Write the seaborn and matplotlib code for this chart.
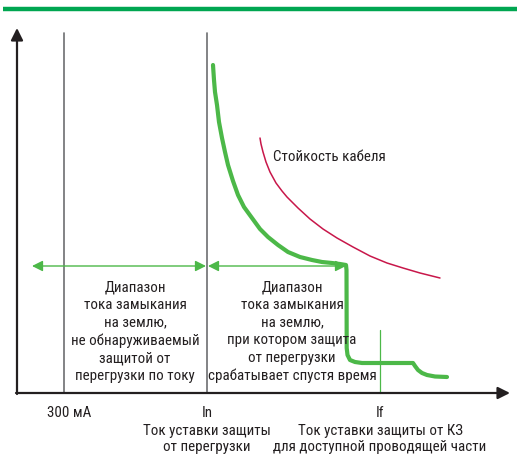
import matplotlib
matplotlib.use("Agg")
import matplotlib.pyplot as plt
import pandas as pd
import seaborn as sns
from matplotlib import font_manager

# schematic coordinates (figure pixels, y grows downward)
trip_x = [213, 214, 215, 217, 219, 222, 225, 228, 233, 238, 244, 252, 260, 268, 278, 288, 300, 312,
          322, 332, 340, 346, 346.5, 346.7, 347.5, 350, 355, 362, 413, 415, 418, 422, 427, 435, 447]
trip_y = [65, 80, 92, 105, 122, 138, 152, 165, 181, 195, 207, 218, 229, 237, 245, 252, 257, 260,
          262, 263, 264, 265, 270, 348, 355, 360, 362, 363, 363, 366, 370, 373, 375, 376.5, 377]

cable_x = [260, 261, 263, 266, 270, 276, 282, 287, 298, 310, 323, 337, 353, 370, 387, 403, 420, 440]
cable_y = [138, 144, 152, 162, 172, 183, 191, 197, 208, 219, 229, 238, 247, 256, 263, 268, 273, 278]

ref_lines = [64, 207]
if_line = 380
tick_labels = ["300 мА", "In", "If"]
tick_pos = [69, 207, 380]
sub_labels = ["Ток уставки защиты\nот перегрузки",
              "Ток уставки защиты от КЗ\nдля доступной проводящей части"]
range_text = ["Диапазон\nтока замыкания\nна землю,\nне обнаруживаемый\nзащитой от\nперегрузки по току",
              "Диапазон\nтока замыкания\nна землю,\nпри котором защита\nот перегрузки\nсрабатывает спустя время"]
range_centers = [135, 292]

GREEN = "#4cb848"
DARK_GREEN = "#00a651"
RED = "#c8174a"
GRAY = "#6d6e71"
INK = "#231f20"

sns.set_style("white")
installed = set(f.name for f in font_manager.fontManager.ttflist)
narrow = [f for f in ["Roboto Condensed", "PT Sans Narrow", "Fira Sans Condensed",
                      "Open Sans Condensed", "Archivo Narrow", "Liberation Sans Narrow",
                      "Liberation Sans"] if f in installed]
plt.rcParams['font.family'] = narrow[:1] + ['DejaVu Sans']

fig = plt.figure(figsize=(5.17, 4.58), dpi=100)
ax = fig.add_axes([0, 0, 1, 1])

# top band
ax.plot([3, 517], [9, 9], color=DARK_GREEN, lw=3.2, solid_capstyle="butt")

# axes with arrows
ax.annotate("", xy=(17, 28), xytext=(17, 394),
            arrowprops=dict(arrowstyle="-|>", color=INK, lw=1.6, mutation_scale=18,
                            shrinkA=0, shrinkB=0))
ax.annotate("", xy=(510, 393), xytext=(16, 393),
            arrowprops=dict(arrowstyle="-|>", color=INK, lw=1.6, mutation_scale=18,
                            shrinkA=0, shrinkB=0))

for x in ref_lines:
    ax.plot([x, x], [33, 393], color=GRAY, lw=1.2)
ax.plot([if_line, if_line], [330, 393], color=GREEN, lw=0.9)

trip = pd.DataFrame({"x": trip_x, "y": trip_y})
cable = pd.DataFrame({"x": cable_x, "y": cable_y})
sns.lineplot(data=trip, x="x", y="y", sort=False, estimator=None, ax=ax, color=GREEN, lw=3.0,
             solid_capstyle="round", solid_joinstyle="round")
sns.lineplot(data=cable, x="x", y="y", sort=False, estimator=None, ax=ax, color=RED, lw=1.1)
ax.set_xlim(0, 517)
ax.set_ylim(458, 0)
ax.axis("off")

ax.text(273, 157, "Стойкость кабеля", fontsize=10.8, va="center", ha="left", color=INK)

# range arrows
for x0, x1 in [(32, 206), (208, 346)]:
    ax.annotate("", xy=(x1, 266), xytext=(x0, 266),
                arrowprops=dict(arrowstyle="<|-|>", color=GREEN, lw=1.0, mutation_scale=16,
                                shrinkA=0, shrinkB=0))

for cx, txt in zip(range_centers, range_text):
    ax.text(cx, 280, txt, fontsize=10.8, ha="center", va="top", color=INK,
            linespacing=1.34)

for x, lab in zip(tick_pos, tick_labels):
    ax.text(x, 413, lab, fontsize=10.8, ha="center", va="center", color=INK)
ax.text(207, 424, sub_labels[0], fontsize=10.8, ha="center", va="top", color=INK,
        linespacing=1.22)
ax.text(380, 424, sub_labels[1], fontsize=10.8, ha="center", va="top", color=INK,
        linespacing=1.22)

fig.savefig("out.png", dpi=100)
